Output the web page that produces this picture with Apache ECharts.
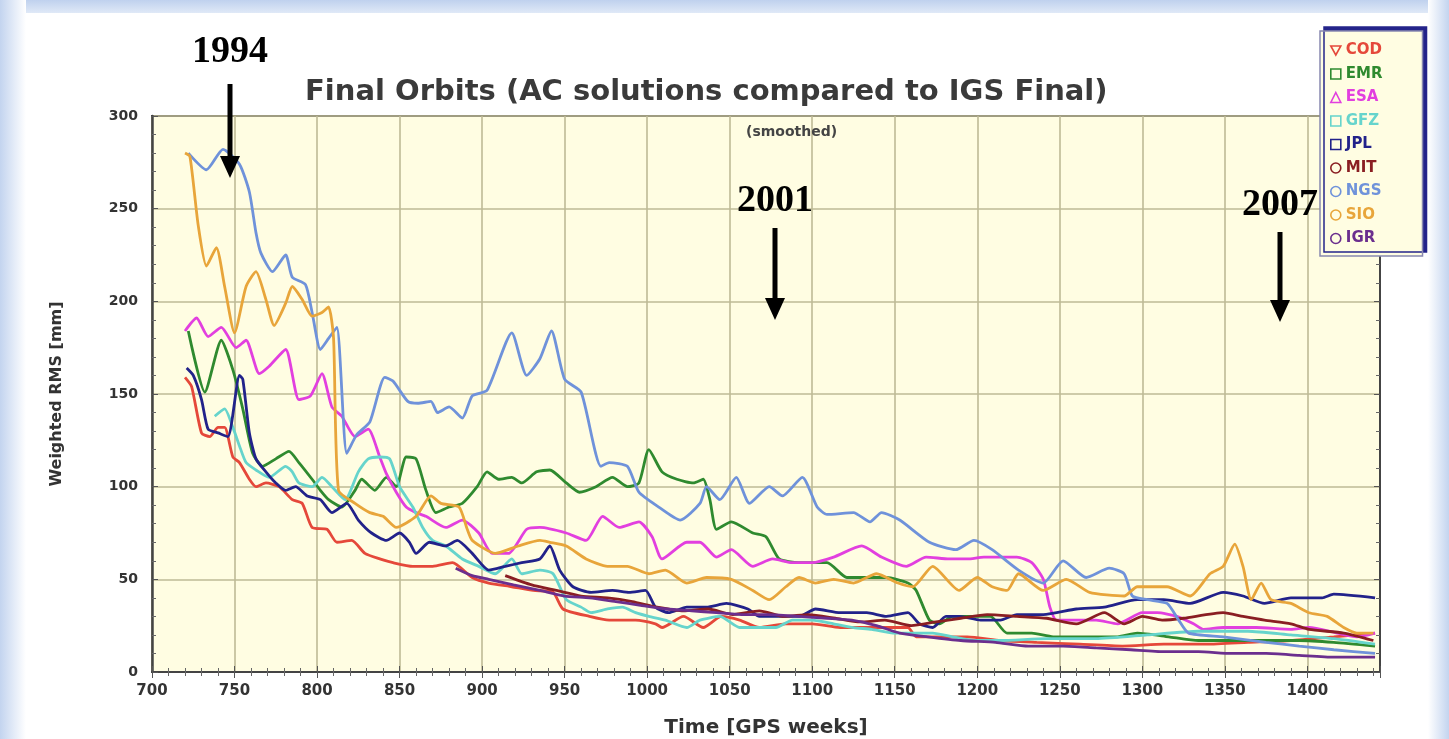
<!DOCTYPE html>
<html>
<head>
<meta charset="utf-8">
<title>Final Orbits</title>
<script src="https://cdn.jsdelivr.net/npm/echarts@6.0.0/dist/echarts.min.js"></script>
<style>
  html, body { margin: 0; padding: 0; background: #fff; }
  #main { width: 1449px; height: 739px; }
</style>
</head>
<body>
<div id="main"></div>
<script>
// analysis centres, in legend order
var acNames = ["COD", "EMR", "ESA", "GFZ", "JPL", "MIT", "NGS", "SIO", "IGR"];
var acColors = ["#E5483A", "#2F8A2F", "#E23FDF", "#66D4CC", "#22228A", "#8A1E22", "#6F92DA", "#E8A53A", "#6B2E8E"];
var acIcons = ["path://M0,0 L10,0 L5,9 Z", "rect", "triangle", "rect", "rect", "circle", "circle", "circle", "circle"];

// [GPS week, weighted RMS mm]
var codData = [[720,159],[724,154],[730,129],[735,127],[740,132],[744,132],[749,116],[753,113],[759,104],[763,100],[769,102],[777,100],[785,93],[791,91],[797,78],[806,77],[812,70],[821,71],[829,64],[838,61],[846,59],[858,57],[870,57],[882,59],[894,51],[904,48],[918,46],[931,44],[943,43],[949,34],[965,30],[977,28],[993,28],[1005,26],[1009,24],[1022,30],[1034,24],[1045,30],[1056,28],[1068,24],[1084,26],[1100,26],[1117,24],[1133,24],[1149,24],[1158,24],[1163,19],[1178,19],[1194,19],[1214,17],[1236,16],[1262,15],[1288,14],[1313,15],[1339,15],[1364,16],[1390,17],[1416,19],[1441,21]];
var emrData = [[722,184],[732,151],[742,179],[749,163],[755,142],[761,118],[767,111],[775,115],[783,119],[789,113],[797,104],[802,98],[807,93],[815,89],[823,98],[827,104],[835,98],[842,105],[848,100],[854,116],[860,115],[866,98],[872,86],[880,89],[888,91],[897,100],[903,108],[910,104],[918,105],[924,102],[933,108],[941,109],[951,102],[959,97],[969,100],[979,105],[988,100],[995,102],[1001,120],[1009,108],[1018,104],[1028,102],[1034,104],[1038,93],[1042,77],[1051,81],[1064,75],[1072,73],[1080,61],[1092,59],[1109,59],[1121,51],[1133,51],[1145,51],[1158,48],[1163,44],[1171,28],[1177,26],[1185,30],[1194,30],[1208,30],[1218,21],[1233,21],[1246,19],[1264,19],[1285,19],[1297,21],[1316,19],[1334,17],[1364,17],[1395,17],[1416,16],[1441,14]];
var esaData = [[720,184],[727,191],[734,181],[742,186],[751,175],[757,179],[765,161],[771,165],[781,174],[789,147],[796,149],[803,161],[809,143],[815,138],[823,127],[831,131],[838,116],[842,107],[848,97],[854,89],[860,86],[866,84],[878,78],[888,82],[898,75],[906,64],[916,64],[927,77],[935,78],[951,75],[963,71],[973,84],[983,78],[995,81],[1003,73],[1009,61],[1024,70],[1032,70],[1042,62],[1051,66],[1064,57],[1076,61],[1088,59],[1100,59],[1113,62],[1130,68],[1142,62],[1157,57],[1169,62],[1183,61],[1194,61],[1204,62],[1224,62],[1233,59],[1240,50],[1244,35],[1248,28],[1260,28],[1272,28],[1285,26],[1300,32],[1309,32],[1321,30],[1331,26],[1337,23],[1349,24],[1369,24],[1390,23],[1401,24],[1418,21],[1430,19],[1441,21]];
var gfzData = [[738,138],[744,142],[749,132],[753,122],[757,113],[763,109],[771,105],[781,111],[785,108],[789,102],[797,100],[803,105],[809,100],[817,93],[825,108],[831,115],[838,116],[844,115],[850,100],[858,89],[864,78],[870,71],[878,68],[888,61],[898,57],[908,53],[918,61],[924,53],[935,55],[943,53],[951,39],[960,35],[966,32],[976,34],[985,35],[993,32],[1001,30],[1011,28],[1024,24],[1032,28],[1044,30],[1056,24],[1064,24],[1078,24],[1088,28],[1100,28],[1113,26],[1125,24],[1136,23],[1149,21],[1161,21],[1173,21],[1185,19],[1198,17],[1214,17],[1242,18],[1272,18],[1303,20],[1334,22],[1364,22],[1390,20],[1416,18],[1441,15]];
var jplData = [[721,164],[725,160],[730,147],[734,131],[740,129],[746,127],[753,160],[755,158],[759,129],[763,115],[769,108],[775,102],[781,98],[787,100],[794,95],[802,93],[809,86],[818,91],[825,82],[833,75],[842,71],[850,75],[856,70],[860,64],[868,70],[878,68],[885,71],[894,64],[904,55],[914,57],[924,59],[935,61],[941,68],[947,55],[955,46],[966,43],[979,44],[989,43],[999,44],[1005,35],[1013,32],[1024,35],[1036,35],[1048,37],[1061,34],[1068,30],[1078,30],[1092,30],[1102,34],[1117,32],[1133,32],[1145,30],[1158,32],[1165,26],[1173,24],[1181,30],[1189,30],[1202,28],[1214,28],[1224,31],[1240,31],[1260,34],[1277,35],[1297,39],[1313,39],[1329,37],[1349,43],[1361,41],[1374,37],[1390,40],[1409,40],[1416,42],[1441,40]];
var mitData = [[914,52],[930,47],[945,44],[960,41],[976,40],[991,38],[1006,35],[1022,33],[1037,34],[1052,31],[1068,33],[1083,30],[1098,31],[1114,29],[1129,27],[1144,28],[1160,25],[1175,27],[1190,29],[1206,31],[1224,30],[1242,29],[1260,26],[1277,32],[1289,26],[1300,30],[1312,28],[1325,29],[1349,32],[1361,30],[1374,28],[1390,26],[1401,23],[1422,21],[1440,17]];
var ngsData = [[722,280],[733,271],[743,282],[753,274],[759,259],[763,237],[766,226],[773,216],[781,225],[785,213],[793,209],[797,194],[802,174],[807,180],[812,186],[818,118],[824,128],[832,135],[841,159],[846,157],[855,146],[861,145],[869,146],[873,140],[880,143],[888,137],[894,149],[903,152],[918,183],[927,160],[935,169],[942,184],[950,158],[960,151],[972,111],[977,113],[988,111],[995,97],[1007,89],[1020,82],[1032,91],[1036,100],[1044,93],[1054,105],[1062,91],[1074,100],[1082,95],[1094,105],[1103,89],[1109,85],[1125,86],[1135,81],[1142,86],[1153,82],[1171,70],[1187,66],[1198,71],[1209,66],[1225,55],[1240,48],[1252,60],[1266,51],[1280,56],[1289,53],[1294,41],[1303,39],[1315,37],[1322,28],[1328,21],[1349,19],[1375,16],[1395,14],[1416,12],[1441,10]];
var sioData = [[720,280],[723,278],[728,241],[733,219],[739,229],[744,208],[750,183],[757,208],[763,216],[769,201],[774,187],[781,199],[785,208],[791,201],[797,192],[803,194],[807,197],[810,180],[813,98],[823,91],[832,86],[840,84],[848,78],[860,84],[869,95],[875,91],[886,89],[891,77],[894,71],[908,64],[922,68],[935,71],[941,70],[951,68],[963,61],[976,57],[988,57],[1001,53],[1011,55],[1024,48],[1036,51],[1051,50],[1064,44],[1074,39],[1084,46],[1092,51],[1102,48],[1113,50],[1125,48],[1139,53],[1152,48],[1161,46],[1173,57],[1189,44],[1200,51],[1209,46],[1218,44],[1225,53],[1240,44],[1254,50],[1268,43],[1289,41],[1297,46],[1315,46],[1329,41],[1341,53],[1349,57],[1356,69],[1361,57],[1366,39],[1372,48],[1378,39],[1390,37],[1401,32],[1412,30],[1422,24],[1430,21],[1440,21]];
var igrData = [[884,56],[894,52],[904,50],[919,47],[935,44],[950,41],[965,40],[981,38],[996,36],[1012,34],[1027,33],[1042,32],[1057,31],[1073,31],[1092,30],[1109,29],[1124,28],[1139,25],[1153,21],[1170,19],[1190,17],[1211,16],[1231,14],[1252,14],[1272,13],[1293,12],[1313,11],[1334,11],[1354,10],[1375,10],[1395,9],[1416,8],[1441,8]];

var acData = [codData, emrData, esaData, gfzData, jplData, mitData, ngsData, sioData, igrData];

var chart = echarts.init(document.getElementById("main"));

var axisFont = "DejaVu Sans";
var plotBg = "#FFFDE2";
var gridColor = "#BEBA96";

// series + legend entries built from the arrays above
var series = [];
var legendData = [];
for (var i = 0; i < acNames.length; i++) {
  series.push({
    name: acNames[i],
    type: "line",
    data: acData[i],
    showSymbol: false,
    smooth: 0.2,
    color: acColors[i],
    lineStyle: { width: 2.8, color: acColors[i] },
  });
  legendData.push({
    name: acNames[i],
    icon: acIcons[i],
    itemStyle: { color: "transparent", borderColor: acColors[i], borderWidth: 1.6 },
    textStyle: { color: acColors[i] },
  });
}

// year markers (text + arrow), placed on the page
function yearMark(label, x, textY, y1, y2) {
  return [
    {
      type: "text", z: 20, x: x, y: textY,
      style: { text: label, fill: "#000", font: "bold 38px 'Liberation Serif'", textAlign: "center", textVerticalAlign: "middle" },
    },
    {
      type: "line", z: 20,
      shape: { x1: x, y1: y1, x2: x, y2: y2 - 18 },
      style: { stroke: "#000", lineWidth: 5 },
    },
    {
      type: "polygon", z: 20,
      shape: { points: [[x - 10, y2 - 22], [x + 10, y2 - 22], [x, y2]] },
      style: { fill: "#000" },
    },
  ];
}

var graphics = [
  // slide frame
  { type: "rect", z: -10, shape: { x: 0, y: 0, width: 1449, height: 13 },
    style: { fill: new echarts.graphic.LinearGradient(0, 0, 0, 1, [{ offset: 0, color: "#BFD1EE" }, { offset: 1, color: "#E0E9F7" }]) } },
  { type: "rect", z: -10, shape: { x: 0, y: 0, width: 26, height: 739 },
    style: { fill: new echarts.graphic.LinearGradient(0, 0, 1, 0, [{ offset: 0, color: "#C3D4EF" }, { offset: 1, color: "#FFFFFF" }]) } },
  { type: "rect", z: -10, shape: { x: 1428, y: 0, width: 21, height: 739 },
    style: { fill: new echarts.graphic.LinearGradient(0, 0, 1, 0, [{ offset: 0, color: "#FFFFFF" }, { offset: 1, color: "#C3D4EF" }]) } },
];
graphics = graphics
  .concat(yearMark("1994", 230, 52, 84, 178))
  .concat(yearMark("2001", 775, 201, 228, 320))
  .concat(yearMark("2007", 1280, 205, 232, 322));

var plainNumber = function (v) { return String(v); };

var option = {
  animation: false,
  backgroundColor: "#fff",
  title: [
    {
      text: "Final Orbits (AC solutions compared to IGS Final)",
      left: 300, top: 73,
      textStyle: { fontFamily: axisFont, fontWeight: "bold", fontSize: 29, color: "#3A3A3A" },
    },
    {
      text: "(smoothed)",
      left: 741, top: 120,
      textStyle: { fontFamily: axisFont, fontWeight: "bold", fontSize: 14, color: "#444" },
    },
  ],
  legend: {
    orient: "vertical",
    left: 1320, top: 31,
    z: 30,
    data: legendData,
    itemWidth: 10, itemHeight: 10,
    itemGap: 8.5,
    itemTextGap: 20,
    padding: [12, 40, 10, 10],
    backgroundColor: plotBg,
    borderColor: "#8888B0",
    borderWidth: 1.5,
    shadowColor: "#24248A",
    shadowOffsetX: 4,
    shadowOffsetY: -4,
    shadowBlur: 0,
    selectedMode: false,
    textStyle: { fontFamily: axisFont, fontWeight: "bold", fontSize: 15, lineHeight: 15 },
  },
  graphic: graphics,
  grid: {
    left: 152, right: 69, top: 116, bottom: 67,
    outerBoundsMode: "none",
    show: true,
    backgroundColor: plotBg,
    borderColor: "#444",
    borderWidth: 2,
  },
  xAxis: [
    {
      type: "value",
      min: 700, max: 1444, interval: 50,
      name: "Time [GPS weeks]",
      nameLocation: "middle",
      nameGap: 46,
      nameTextStyle: { fontFamily: axisFont, fontWeight: "bold", fontSize: 20, color: "#333" },
      axisLine: { lineStyle: { color: "#444", width: 2 } },
      axisTick: { inside: true, length: 6, lineStyle: { color: "#555" } },
      minorTick: { show: true, splitNumber: 5, length: 4, lineStyle: { color: "#666" } },
      axisLabel: { showMaxLabel: false, margin: 12, formatter: plainNumber, fontFamily: axisFont, fontWeight: "bold", fontSize: 15, color: "#333" },
      splitLine: { show: true, lineStyle: { color: gridColor, width: 1.6 } },
    },
    {
      type: "value", position: "top",
      min: 700, max: 1444, interval: 50,
      axisLine: { lineStyle: { color: "#444", width: 2 } },
      axisTick: { inside: true, length: 6, lineStyle: { color: "#555" } },
      minorTick: { show: true, splitNumber: 5, length: 4, lineStyle: { color: "#666" } },
      axisLabel: { show: false },
      splitLine: { show: false },
    },
  ],
  yAxis: [
    {
      type: "value",
      min: 0, max: 300, interval: 50,
      name: "Weighted RMS [mm]",
      nameLocation: "middle",
      nameRotate: 90,
      nameGap: 87,
      nameTextStyle: { fontFamily: axisFont, fontWeight: "bold", fontSize: 16, color: "#333" },
      axisLine: { show: true, lineStyle: { color: "#444", width: 2.5 } },
      axisTick: { inside: true, length: 6, lineStyle: { color: "#555" } },
      minorTick: { show: true, splitNumber: 5, length: 4, lineStyle: { color: "#666" } },
      axisLabel: { margin: 14, fontFamily: axisFont, fontWeight: "bold", fontSize: 14, color: "#333" },
      splitLine: { show: true, lineStyle: { color: gridColor, width: 1.6 } },
    },
    {
      type: "value", position: "right",
      min: 0, max: 300, interval: 50,
      axisLine: { show: true, lineStyle: { color: "#444", width: 2 } },
      axisTick: { inside: true, length: 6, lineStyle: { color: "#555" } },
      minorTick: { show: true, splitNumber: 5, length: 4, lineStyle: { color: "#666" } },
      axisLabel: { show: false },
      splitLine: { show: false },
    },
  ],
  series: series,
};

chart.setOption(option);
</script>
</body>
</html>
